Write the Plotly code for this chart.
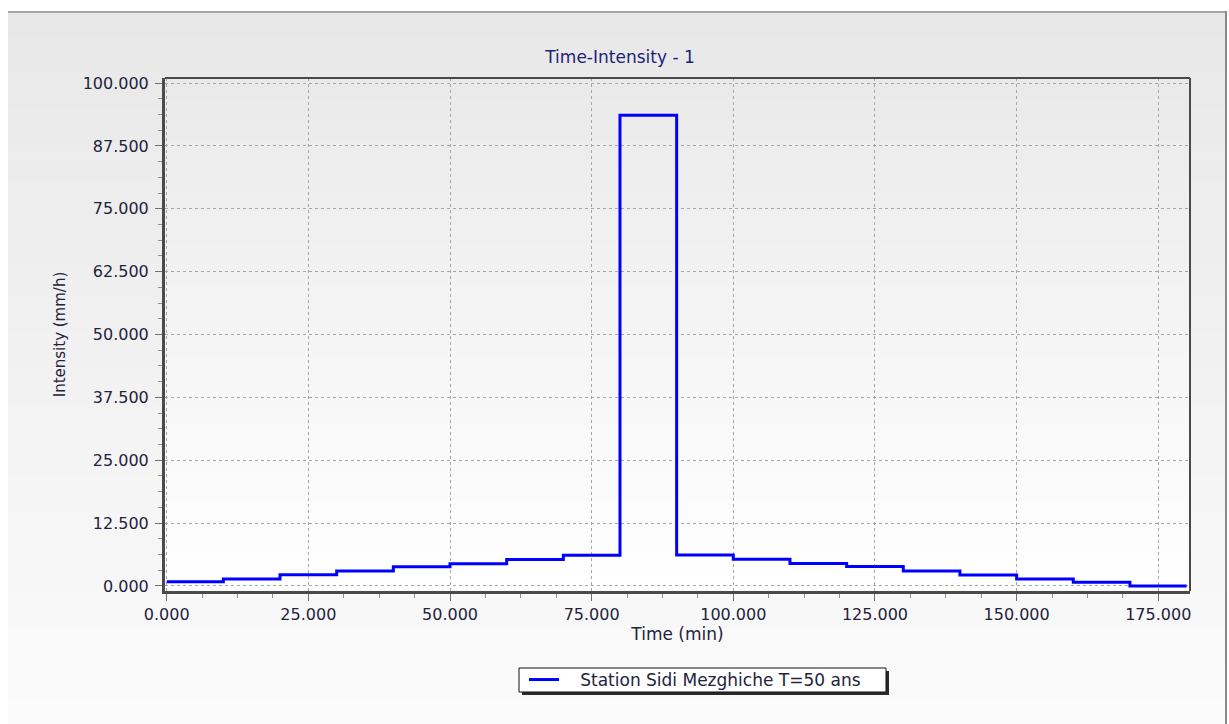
import plotly.graph_objects as go

# Design storm hyetograph: 10-minute blocks over 3 hours
interval_start_min = [0, 10, 20, 30, 40, 50, 60, 70, 80, 90,
                      100, 110, 120, 130, 140, 150, 160, 170]
intensity_mm_h = [0.85, 1.40, 2.25, 3.00, 3.80, 4.40, 5.25, 6.10, 93.60, 6.15,
                  5.30, 4.45, 3.85, 3.00, 2.20, 1.40, 0.75, 0.00]
storm_end_min = 180

x_ticks = [0, 25, 50, 75, 100, 125, 150, 175]
y_ticks = [0, 12.5, 25, 37.5, 50, 62.5, 75, 87.5, 100]

series_name = "Station Sidi Mezghiche T=50 ans"
chart_title = "Time-Intensity - 1"
x_title = "Time (min)"
y_title = "Intensity (mm/h)"

W, H = 1229, 724
ML, MR, MT, MB = 165, 39, 78, 133
PLOT_W = W - ML - MR
PLOT_H = H - MT - MB


def px_x(p):
    return (p - ML) / PLOT_W


def px_y(p):
    return (H - MB - p) / PLOT_H


def grey(v):
    v = int(round(v))
    return f"rgb({v},{v},{v})"


# step line: hold each block's value until the next block starts
xs = interval_start_min + [storm_end_min]
ys = intensity_mm_h + [intensity_mm_h[-1]]

fig = go.Figure()
fig.add_trace(go.Scatter(
    x=xs, y=ys, mode="lines", line_shape="hv",
    line=dict(color="#0000ff", width=3),
    name="\u00a0\u00a0\u00a0" + series_name,
    showlegend=True,
))

shapes = []
# outer panel with a soft vertical gradient
n_bands = 60
top_px, bot_px = 13, H
for i in range(n_bands):
    y0 = top_px + (bot_px - top_px) * i / n_bands
    y1 = top_px + (bot_px - top_px) * (i + 1) / n_bands + 0.6
    shade = 232 + (251 - 232) * i / (n_bands - 1)
    shapes.append(dict(type="rect", xref="paper", yref="paper",
                       x0=px_x(8), x1=px_x(1225), y0=px_y(y1), y1=px_y(y0),
                       fillcolor=grey(shade), line_width=0, layer="below"))
# panel edges
shapes.append(dict(type="line", xref="paper", yref="paper",
                   x0=px_x(8), x1=px_x(1225), y0=px_y(12), y1=px_y(12),
                   line=dict(color="#a8a8a8", width=2), layer="below"))
shapes.append(dict(type="line", xref="paper", yref="paper",
                   x0=px_x(1226), x1=px_x(1226), y0=px_y(11), y1=px_y(H),
                   line=dict(color="#8a8a8a", width=2), layer="below"))

# plot area gradient
n_plot = 50
for i in range(n_plot):
    y0 = i / n_plot
    y1 = (i + 1) / n_plot + 0.003
    shade = 255 - (255 - 234) * i / (n_plot - 1)
    shapes.append(dict(type="rect", xref="paper", yref="paper",
                       x0=0, x1=1, y0=y0, y1=min(y1, 1),
                       fillcolor=grey(shade), line_width=0, layer="below"))

# frame: thin top/right, heavier left/bottom
shapes.append(dict(type="line", xref="paper", yref="paper", x0=0, x1=1, y0=1, y1=1,
                   line=dict(color="#4a4a4a", width=2), layer="above"))
shapes.append(dict(type="line", xref="paper", yref="paper", x0=1, x1=1, y0=0, y1=1,
                   line=dict(color="#4a4a4a", width=2), layer="above"))

# legend box with drop shadow
lx0, lx1, ly0, ly1 = 519, 886, 668, 692
shapes.append(dict(type="rect", xref="paper", yref="paper",
                   x0=px_x(lx0 + 3), x1=px_x(lx1 + 3), y0=px_y(ly1 + 3), y1=px_y(ly0 + 3),
                   fillcolor="#2a2a2a", line_width=0, layer="above"))
shapes.append(dict(type="rect", xref="paper", yref="paper",
                   x0=px_x(lx0), x1=px_x(lx1), y0=px_y(ly1), y1=px_y(ly0),
                   fillcolor="white", line=dict(color="#111111", width=1), layer="above"))

text_color = "#23233d"
tick_font = dict(family="DejaVu Sans", size=16, color=text_color)

fig.update_layout(
    width=W, height=H,
    margin=dict(l=ML, r=MR, t=MT, b=MB, autoexpand=False),
    paper_bgcolor="white",
    plot_bgcolor="white",
    shapes=shapes,
    title=dict(text=chart_title, x=620 / W, xref="container", xanchor="center",
               y=1 - 57 / H, yref="container", yanchor="middle",
               font=dict(family="DejaVu Sans", size=17, color="#1f1f78")),
    showlegend=True,
    legend=dict(orientation="h", x=px_x(524), xanchor="left",
                y=px_y(680), yanchor="middle",
                bgcolor="rgba(0,0,0,0)", borderwidth=0,
                font=dict(family="DejaVu Sans", size=17, color=text_color)),
    xaxis=dict(
        range=[-0.3, 180.6], tickvals=x_ticks, tickformat=".3f",
        showline=True, linecolor="#4a4a4a", linewidth=3,
        ticks="outside", ticklen=7, tickcolor="#707070",
        minor=dict(ticks="outside", ticklen=4, tickcolor="#909090", dtick=6.25,
                   showgrid=False),
        showgrid=True, gridcolor="#a6a6a6", gridwidth=1, griddash="3px,3px",
        zeroline=False, tickfont=tick_font,
        title=dict(text=x_title, standoff=3,
                   font=dict(family="DejaVu Sans", size=17, color=text_color)),
    ),
    yaxis=dict(
        range=[-1.0, 101.0], tickvals=y_ticks, tickformat=".3f",
        showline=True, linecolor="#4a4a4a", linewidth=3,
        ticks="outside", ticklen=7, tickcolor="#707070", ticklabelstandoff=3,
        minor=dict(ticks="outside", ticklen=4, tickcolor="#909090", dtick=3.125,
                   showgrid=False),
        showgrid=True, gridcolor="#a6a6a6", gridwidth=1, griddash="3px,3px",
        zeroline=False, tickfont=tick_font,
        title=dict(text=y_title, standoff=14,
                   font=dict(family="DejaVu Sans", size=15, color=text_color)),
    ),
)

fig.write_html("out.html")
